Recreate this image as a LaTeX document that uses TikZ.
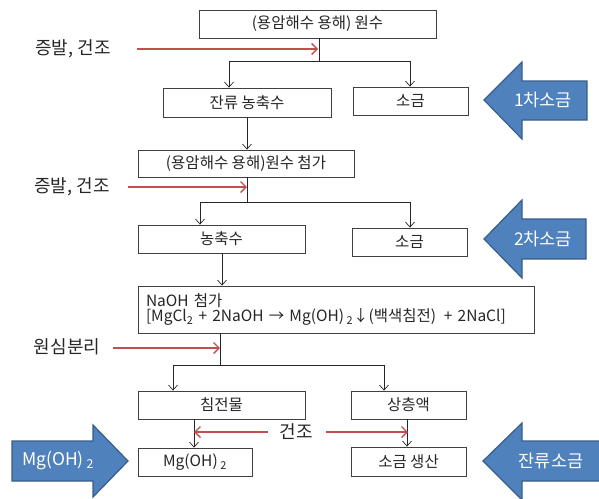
\documentclass[tikz,border=0pt]{standalone}
\usepackage{fontspec}
\setmainfont{Noto Sans CJK KR}
\usetikzlibrary{arrows.meta}
\definecolor{blueF}{HTML}{4F81BD}
\definecolor{blueD}{HTML}{385D8A}
\definecolor{redA}{HTML}{C0504D}
\definecolor{txt}{HTML}{262626}
\begin{document}
\begin{tikzpicture}[x=1pt,y=-1pt,
  box/.style={draw=black!75, line width=0.8pt, fill=white, inner sep=0pt, font=\fontsize{15.5}{16}\selectfont, text=txt},
  conn/.style={draw=black!85, line width=0.7pt},
  carr/.style={conn, -{Straight Barb[length=5pt,width=9pt]}},
  rarr/.style={draw=redA, line width=1.4pt, -{Straight Barb[length=5.5pt,width=11pt]}},
  lbl/.style={font=\fontsize{18}{20}\selectfont, text=txt, inner sep=0pt},
  barrow/.style={fill=blueF, draw=blueD, line width=1.2pt, line join=miter},
  btxt/.style={font=\fontsize{17.5}{20}\selectfont, text=white, inner sep=0pt}
]
\useasboundingbox (0,0) rectangle (599,498);

% boxes
\node[box, minimum width=237pt, minimum height=28pt] (b1) at (317.5,24) {(용암해수 용해) 원수};
\node[box, minimum width=168pt, minimum height=29pt] (b2) at (247,102.5) {잔류 농축수};
\node[box, minimum width=115pt, minimum height=28pt] (b3) at (410.5,101) {소금};
\node[box, minimum width=216pt, minimum height=27pt] (b4) at (246,163.5) {(용암해수 용해)원수 첨가};
\node[box, minimum width=167pt, minimum height=28pt] (b5) at (221.5,239) {농축수};
\node[box, minimum width=115pt, minimum height=28pt] (b6) at (409.5,242) {소금};
\node[box, minimum width=396pt, minimum height=47pt, text width=380pt, inner xsep=8pt, align=left] (b7) at (336,309.5)
  {NaOH 첨가\\[-1.5pt]{[}MgCl\textsubscript{2} + 2NaOH → Mg(OH)\,\textsubscript{2}↓(백색침전)\, + 2NaCl{]}};
\node[box, minimum width=167pt, minimum height=28pt] (b8) at (221.5,405) {침전물};
\node[box, minimum width=115pt, minimum height=28pt] (b9) at (408.5,405) {상층액};
\node[box, minimum width=114pt, minimum height=28pt] (b10) at (195,462) {Mg(OH)\,\textsubscript{2}};
\node[box, minimum width=115pt, minimum height=29pt] (b11) at (408.5,461.5) {소금 생산};

% connectors
\coordinate (j1) at (319,61);
\coordinate (j1l) at (229,61);
\coordinate (j1r) at (410,61);
\draw[conn] (b1.south -| j1) -- (j1);
\draw[conn] (j1l) -- (j1r);
\draw[carr] (j1l) -- (j1l |- b2.north);
\draw[carr] (j1r) -- (j1r |- b3.north);

\coordinate (c2) at (247,117);
\draw[carr] (b2.south -| c2) -- (b4.north -| c2);

\coordinate (j2) at (247,202);
\coordinate (j2l) at (200,202);
\coordinate (j2r) at (410,202);
\draw[conn] (b4.south -| j2) -- (j2);
\draw[conn] (j2l) -- (j2r);
\draw[carr] (j2l) -- (j2l |- b5.north);
\draw[carr] (j2r) -- (j2r |- b6.north);

\coordinate (c5) at (222,253);
\draw[carr] (b5.south -| c5) -- (b7.north -| c5);

\coordinate (j3) at (220,365);
\coordinate (j3l) at (173,365);
\coordinate (j3r) at (384,365);
\draw[conn] (b7.south -| j3) -- (j3);
\draw[conn] (j3l) -- (j3r);
\draw[carr] (j3l) -- (j3l |- b8.north);
\draw[carr] (j3r) -- (j3r |- b9.north);

\coordinate (c8) at (194,419);
\draw[carr] (b8.south -| c8) -- (b10.north -| c8);
\coordinate (c9) at (407,419);
\draw[carr] (b9.south -| c9) -- (b11.north -| c9);

% red process arrows
\node[lbl] (l1) at (73,49) {증발, 건조};
\coordinate (r1s) at (137,49);
\coordinate (r1e) at (318,49);
\draw[rarr] (r1s) -- (r1e);

\node[lbl] (l2) at (72,187) {증발, 건조};
\coordinate (r2s) at (128,187);
\coordinate (r2e) at (247,187);
\draw[rarr] (r2s) -- (r2e);

\node[lbl] (l3) at (67,347) {원심분리};
\coordinate (r3s) at (113,348);
\coordinate (r3e) at (220,348);
\draw[rarr] (r3s) -- (r3e);

\node[lbl] (l4) at (296,432) {건조};
\coordinate (r4s) at (268,432);
\coordinate (r4e) at (194,432);
\coordinate (r5s) at (326,432);
\coordinate (r5e) at (408,432);
\draw[rarr] (r4s) -- (r4e);
\draw[rarr] (r5s) -- (r5e);

% blue block arrows
\filldraw[barrow] (484,100) -- (522,62) -- (522,81) -- (587,81) -- (587,120) -- (522,120) -- (522,139) -- cycle;
\node[btxt] (a1) at (543,100) {1차소금};

\filldraw[barrow] (484,239) -- (522,200) -- (522,219) -- (586,219) -- (586,259) -- (522,259) -- (522,278) -- cycle;
\node[btxt] (a2) at (543,239) {2차소금};

\filldraw[barrow] (483,461) -- (522,423) -- (522,441) -- (606,441) -- (606,481) -- (522,481) -- (522,500) -- cycle;
\node[btxt] (a3) at (551,461) {잔류소금};

\filldraw[barrow] (12,441) -- (93,441) -- (93,425) -- (128,461) -- (93,497) -- (93,481) -- (12,481) -- cycle;
\node[btxt] (a4) at (58,461) {Mg(OH)\,\textsubscript{2}};
\end{tikzpicture}
\end{document}
